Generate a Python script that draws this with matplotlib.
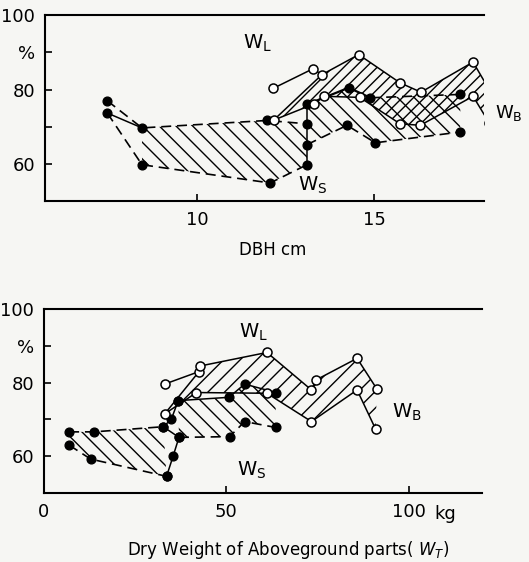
import numpy as np
import matplotlib.pyplot as plt

plt.rcParams['mathtext.fontset'] = 'dejavusans'
plt.rcParams['hatch.linewidth'] = 1.0

# ---- top panel: DBH (cm) ----
ws1_hi_x = [7.46, 8.44, 11.97, 13.1]
ws1_hi_y = [77.0, 69.7, 71.7, 70.8]
ws1_lo_x = [7.46, 8.44, 12.06, 13.1]
ws1_lo_y = [73.7, 59.8, 54.9, 59.8]
ws1_col_y = [59.8, 65.2, 70.8, 76.0]          # values at DBH 13.1
ws2_hi_x = [13.1, 14.28, 14.89, 17.43]
ws2_hi_y = [76.0, 80.5, 77.8, 78.7]
ws2_lo_x = [13.1, 14.23, 15.03, 17.43]
ws2_lo_y = [65.2, 70.4, 65.7, 68.6]
wl1_x = [12.14, 13.27, 13.52, 14.56, 15.73, 16.32, 17.79, 18.28]
wl1_y = [80.3, 85.6, 84.0, 89.4, 81.8, 79.3, 87.4, 79.4]
wb1_x = [12.16, 13.29, 13.57, 14.59, 15.73, 16.30, 17.79, 18.25]
wb1_y = [71.8, 76.1, 78.2, 77.9, 70.8, 70.4, 78.2, 71.0]

# ---- bottom panel: dry weight (kg) ----
ws3_hi_x = [6.9, 13.7, 32.7]
ws3_hi_y = [66.6, 66.6, 68.0]
ws3_lo_x = [6.9, 12.8, 33.6]
ws3_lo_y = [63.0, 59.2, 54.5]
ws3_col_x = [33.6, 35.4, 37.0, 32.7, 34.9, 36.8]
ws3_col_y = [54.5, 60.0, 65.1, 68.0, 70.0, 75.1]
ws4_hi_x = [36.8, 50.7, 55.0, 63.5]
ws4_hi_y = [75.1, 76.0, 79.6, 77.3]
ws4_lo_x = [37.0, 50.9, 55.0, 63.5]
ws4_lo_y = [65.1, 65.3, 69.4, 67.8]
wl2_x = [33.1, 42.5, 42.7, 61.1, 73.3, 74.5, 85.8, 91.2]
wl2_y = [79.6, 83.0, 84.5, 88.2, 78.0, 80.7, 86.6, 78.3]
wb2_x = [33.1, 41.8, 61.1, 73.3, 85.8, 90.9]
wb2_y = [71.5, 77.3, 77.1, 69.4, 78.0, 67.3]

bg = '#f6f6f3'
fig = plt.figure(figsize=(5.29, 5.62), dpi=100, facecolor=bg)

dash = dict(color='black', lw=1.2, linestyle=(0, (6, 3.5)))
solid = dict(color='black', lw=1.1)
dot = dict(linestyle='none', marker='o', ms=6.3, color='black')
ring = dict(linestyle='none', marker='o', ms=6.5, mfc='white', mec='black', mew=1.1)


def hatch(ax, x1, y1, x2, y2, h):
    px = list(x1) + list(x2)[::-1]
    py = list(y1) + list(y2)[::-1]
    ax.fill(px, py, facecolor='none', edgecolor='black', hatch=h, lw=0)


def style(ax, xlim, xt, xtl):
    ax.set_facecolor(bg)
    ax.set_xlim(*xlim)
    ax.set_ylim(50, 100)
    ax.spines['right'].set_visible(False)
    for s in ['top', 'bottom', 'left']:
        ax.spines[s].set_linewidth(1.5)
    ax.set_yticks([60, 70, 80, 90, 100])
    ax.set_yticklabels(['60', '', '80', '%', '100'], fontsize=13)
    ax.set_xticks(xt)
    ax.set_xticklabels(xtl, fontsize=13)
    ax.tick_params(direction='in', length=5, width=1.2, pad=7)


# top
ax1 = fig.add_axes([0.085, 0.642, 0.83, 0.331])
style(ax1, (5.7, 18.1), [10, 15], ['10', '15'])
hatch(ax1, ws1_hi_x[1:], ws1_hi_y[1:], ws1_lo_x[1:], ws1_lo_y[1:], '\\\\')
hatch(ax1, ws2_hi_x, ws2_hi_y, ws2_lo_x, ws2_lo_y, '\\\\')
hatch(ax1, [wb1_x[0]] + wl1_x[2:], [wb1_y[0]] + wl1_y[2:], wb1_x, wb1_y, '///')
ax1.plot(ws1_hi_x, ws1_hi_y, **dash)
ax1.plot(ws1_lo_x, ws1_lo_y, **dash)
ax1.plot([ws1_lo_x[0], ws1_hi_x[1]], [ws1_lo_y[0], ws1_hi_y[1]], **solid)
ax1.plot([13.1] * len(ws1_col_y), ws1_col_y, **solid)
ax1.plot(ws2_hi_x[:3], ws2_hi_y[:3], color='black', lw=1.6)
ax1.plot(ws2_hi_x[2:], ws2_hi_y[2:], **dash)
ax1.plot(ws2_lo_x, ws2_lo_y, **dash)
ax1.plot(wl1_x, wl1_y, **solid)
ax1.plot(wb1_x, wb1_y, **solid)
ax1.plot([wb1_x[0], wl1_x[2]], [wb1_y[0], wl1_y[2]], **solid)
ax1.plot(ws1_hi_x + ws1_lo_x + ws2_hi_x + ws2_lo_x,
         ws1_hi_y + ws1_lo_y + ws2_hi_y + ws2_lo_y, **dot)
ax1.plot(wl1_x + wb1_x, wl1_y + wb1_y, **ring)
ax1.text(11.3, 92.5, r'$\mathrm{W_L}$', fontsize=14, va='center')
ax1.text(12.85, 54.3, r'$\mathrm{W_S}$', fontsize=14, va='center')
ax1.text(18.42, 73.7, r'$\mathrm{W_B}$', fontsize=13, va='center', clip_on=False)
fig.text(0.515, 0.556, 'DBH cm', fontsize=12, ha='center', va='center')

# bottom
ax2 = fig.add_axes([0.083, 0.123, 0.828, 0.327])
style(ax2, (0, 120), [0, 50, 100], ['0', '50', '100'])
ax2.text(107, 44.2, 'kg', fontsize=13, ha='left', va='center')
hatch(ax2, ws3_hi_x, ws3_hi_y, ws3_lo_x, ws3_lo_y, '\\\\')
hatch(ax2, ws4_hi_x, ws4_hi_y, ws4_lo_x, ws4_lo_y, '\\\\')
hatch(ax2, [wb2_x[0]] + wl2_x[1:], [wb2_y[0]] + wl2_y[1:], wb2_x, wb2_y, '//')
ax2.plot(ws3_hi_x, ws3_hi_y, **dash)
ax2.plot(ws3_lo_x, ws3_lo_y, **dash)
ax2.plot(ws3_col_x, ws3_col_y, **solid)
ax2.plot(ws4_hi_x, ws4_hi_y, **solid)
ax2.plot(ws4_lo_x, ws4_lo_y, **dash)
ax2.plot(wl2_x, wl2_y, **solid)
ax2.plot(wb2_x, wb2_y, **solid)
ax2.plot([wb2_x[0], wl2_x[1]], [wb2_y[0], wl2_y[1]], **solid)
ax2.plot(ws3_hi_x + ws3_lo_x + ws3_col_x + ws4_hi_x + ws4_lo_x,
         ws3_hi_y + ws3_lo_y + ws3_col_y + ws4_hi_y + ws4_lo_y, **dot)
ax2.plot(wl2_x + wb2_x, wl2_y + wb2_y, **ring)
ax2.text(53.5, 93.8, r'$\mathrm{W_L}$', fontsize=14, va='center')
ax2.text(53.0, 56.2, r'$\mathrm{W_S}$', fontsize=14, va='center')
ax2.text(95.5, 72.0, r'$\mathrm{W_B}$', fontsize=14, va='center')
fig.text(0.545, 0.022, r'Dry Weight of Aboveground parts( $\mathit{W_T}$)',
         fontsize=12, ha='center', va='center')

fig.savefig('out.png', dpi=100, facecolor=bg)
